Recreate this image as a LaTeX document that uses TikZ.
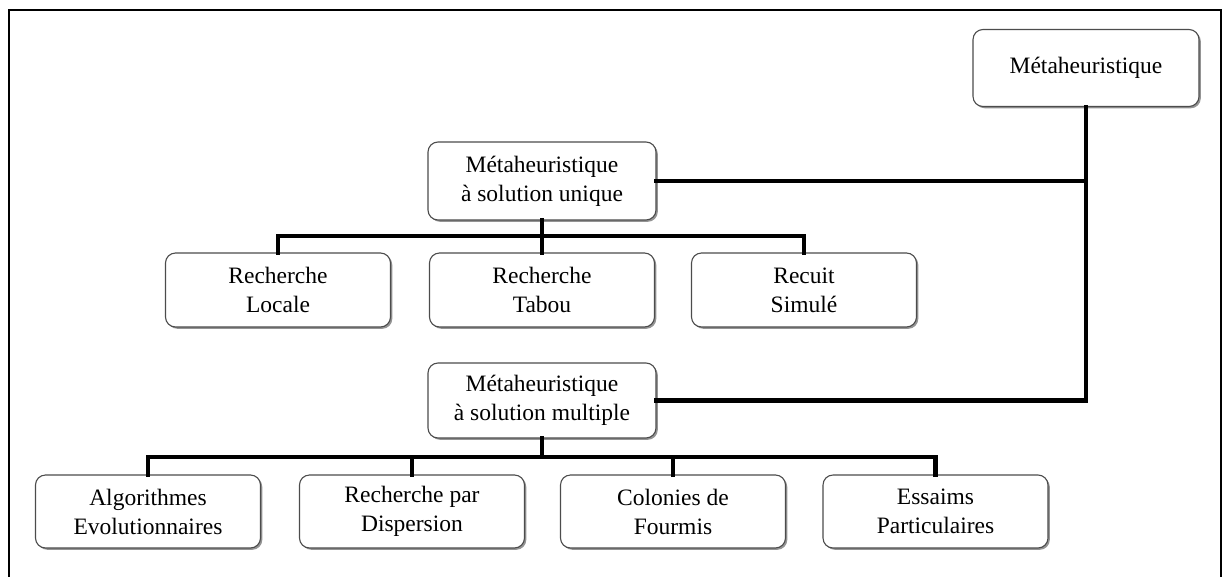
\documentclass[tikz,border=0pt]{standalone}
\usepackage{fontspec}
\setmainfont{Liberation Serif}
\usetikzlibrary{shadows}
\begin{document}
\begin{tikzpicture}[x=1pt,y=-1pt,
  box/.style={draw=black!70, line width=1.1pt, rounded corners=10pt, fill=white,
    align=center, inner sep=0pt, font=\fontsize{23.5}{29}\selectfont,
    drop shadow={shadow xshift=1.8pt, shadow yshift=-1.8pt, opacity=0.6, fill=black!70}},
  conn/.style={line width=4.6pt, black, line join=miter, line cap=rect},
  frame/.style={line width=2.5pt, black}]
\useasboundingbox (0,0) rectangle (1223,576);
\draw[frame] (9,580) -- (9,10) -- (1221,10) -- (1221,580);

\node[box, minimum width=226pt, minimum height=77pt] (top) at (1086,68) {Métaheuristique};
\node[box, minimum width=228pt, minimum height=78pt] (msu) at (542,181) {Métaheuristique\\à solution unique};
\node[box, minimum width=225pt, minimum height=74pt] (loc) at (278,290) {Recherche\\Locale};
\node[box, minimum width=225pt, minimum height=74pt] (tab) at (542,290) {Recherche\\Tabou};
\node[box, minimum width=225pt, minimum height=74pt] (rec) at (804,290) {Recuit\\Simulé};
\node[box, minimum width=228pt, minimum height=75pt] (msm) at (542,400.5) {Métaheuristique\\à solution multiple};
\node[box, minimum width=225pt, minimum height=73pt] (alg) at (148,511.5) {Algorithmes\\Evolutionnaires};
\node[box, minimum width=225pt, minimum height=73pt] (rpd) at (412,511.5) {Recherche par\\Dispersion};
\node[box, minimum width=225pt, minimum height=73pt] (col) at (673,511.5) {Colonies de\\Fourmis};
\node[box, minimum width=225pt, minimum height=73pt] (ess) at (935.5,511.5) {Essaims\\Particulaires};

\coordinate (b1) at (0,236);
\coordinate (b2) at (0,457);

\draw[conn] (top.south) -- (top.south |- msm.east) -- (msm.east);
\draw[conn] (msu.east) -- (msu.east -| top.south);

\draw[conn] (msu.south) -- (tab.north);
\draw[conn] (loc.north) -- (loc.north |- b1) -- (rec.north |- b1) -- (rec.north);

\draw[conn] (msm.south) -- (msm.south |- b2);
\draw[conn] (alg.north) -- (alg.north |- b2) -- (ess.north |- b2) -- (ess.north);
\draw[conn] (rpd.north) -- (rpd.north |- b2);
\draw[conn] (col.north) -- (col.north |- b2);
\end{tikzpicture}
\end{document}
